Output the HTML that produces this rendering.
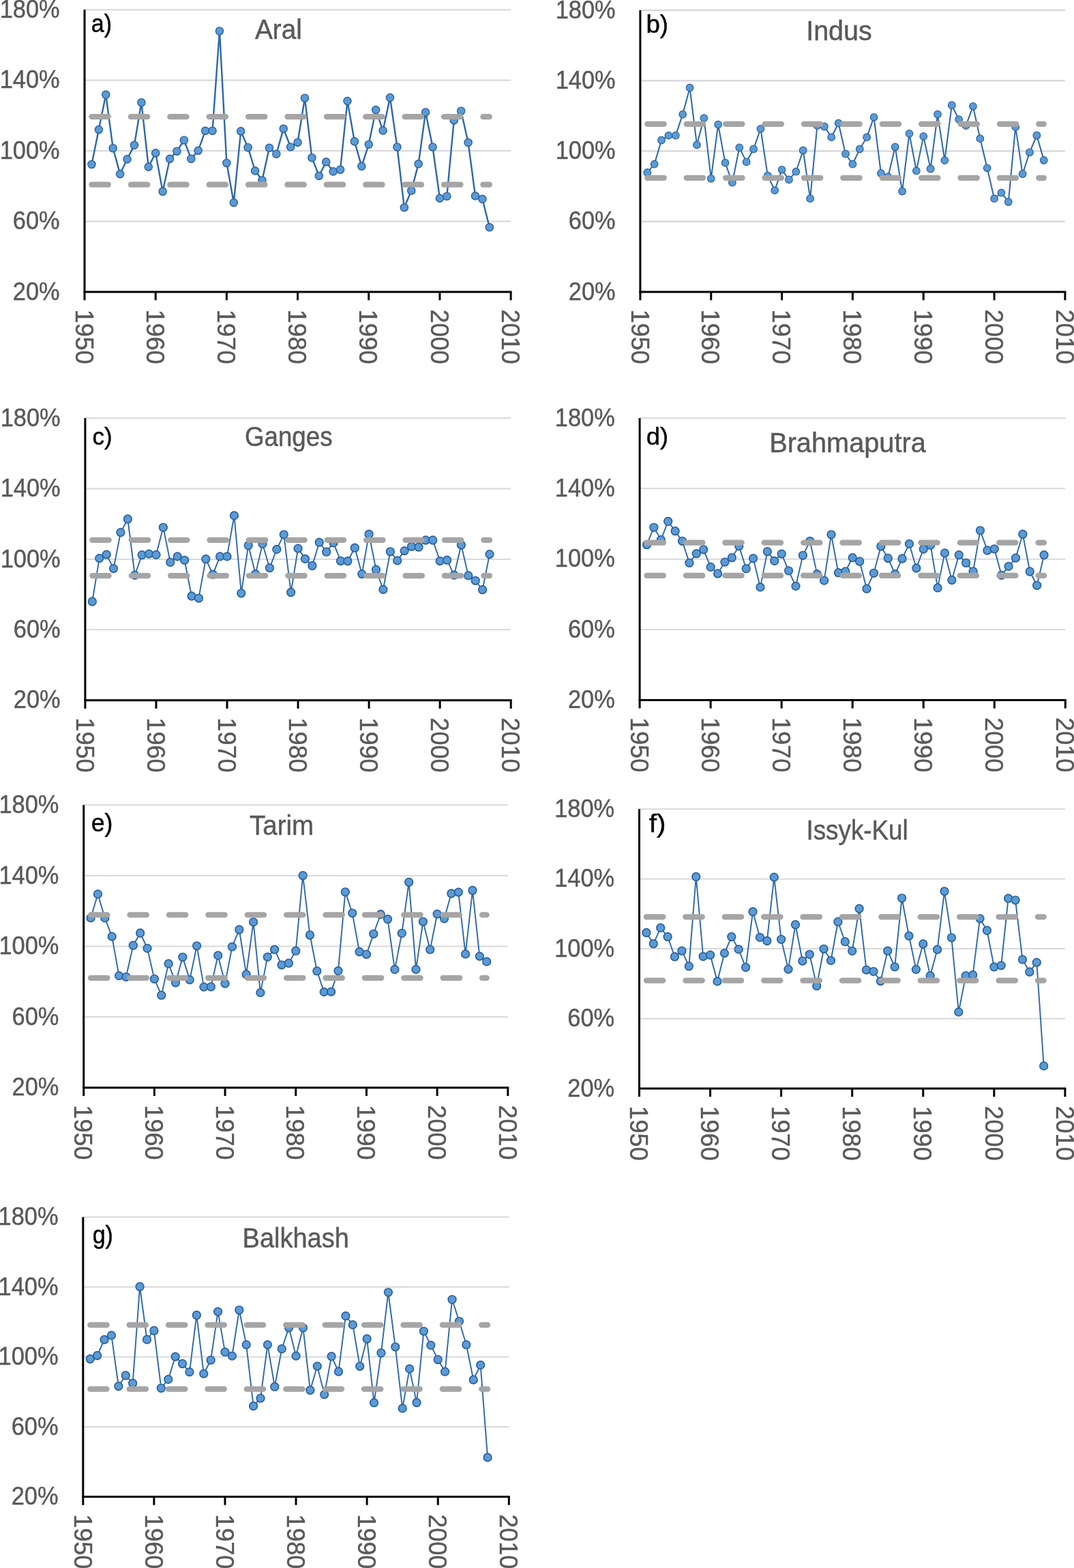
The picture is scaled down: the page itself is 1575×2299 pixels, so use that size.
<!DOCTYPE html>
<html><head><meta charset="utf-8"><title>Runoff charts</title>
<style>html,body{margin:0;padding:0;background:#fff;}svg{display:block;}text{font-family:'Liberation Sans', Arial, sans-serif;stroke-width:0.45px;}</style>
</head><body>
<svg width="1575" height="2299" viewBox="0 0 1575 2299">
<rect width="1575" height="2299" fill="#fff"/>
<g id="pa"><line x1="124" y1="14.3" x2="749.1" y2="14.3" stroke="#d9d9d9" stroke-width="2.3"/><line x1="124" y1="117.72" x2="749.1" y2="117.72" stroke="#d9d9d9" stroke-width="2.3"/><line x1="124" y1="221.15" x2="749.1" y2="221.15" stroke="#d9d9d9" stroke-width="2.3"/><line x1="124" y1="324.57" x2="749.1" y2="324.57" stroke="#d9d9d9" stroke-width="2.3"/><text transform="translate(87.7,25.9) scale(0.935,1)" text-anchor="end" font-size="36.8" fill="#595959" stroke="#595959">180%</text><text transform="translate(87.7,129.32) scale(0.935,1)" text-anchor="end" font-size="36.8" fill="#595959" stroke="#595959">140%</text><text transform="translate(87.7,232.75) scale(0.935,1)" text-anchor="end" font-size="36.8" fill="#595959" stroke="#595959">100%</text><text transform="translate(87.7,336.18) scale(0.935,1)" text-anchor="end" font-size="36.8" fill="#595959" stroke="#595959">60%</text><text transform="translate(87.7,439.6) scale(0.935,1)" text-anchor="end" font-size="36.8" fill="#595959" stroke="#595959">20%</text><text transform="translate(110.7,453.65) rotate(90) scale(0.979,1)" font-size="36.8" fill="#595959" stroke="#595959">1950</text><text transform="translate(214.88,453.65) rotate(90) scale(0.979,1)" font-size="36.8" fill="#595959" stroke="#595959">1960</text><text transform="translate(319.07,453.65) rotate(90) scale(0.979,1)" font-size="36.8" fill="#595959" stroke="#595959">1970</text><text transform="translate(423.25,453.65) rotate(90) scale(0.979,1)" font-size="36.8" fill="#595959" stroke="#595959">1980</text><text transform="translate(527.43,453.65) rotate(90) scale(0.979,1)" font-size="36.8" fill="#595959" stroke="#595959">1990</text><text transform="translate(631.62,453.65) rotate(90) scale(0.979,1)" font-size="36.8" fill="#595959" stroke="#595959">2000</text><text transform="translate(735.8,453.65) rotate(90) scale(0.979,1)" font-size="36.8" fill="#595959" stroke="#595959">2010</text><line x1="124" y1="14.3" x2="124" y2="440.2" stroke="#000" stroke-width="3"/><line x1="122.5" y1="428" x2="750.6" y2="428" stroke="#000" stroke-width="3"/><line x1="228.18" y1="428" x2="228.18" y2="440.2" stroke="#000" stroke-width="3"/><line x1="332.37" y1="428" x2="332.37" y2="440.2" stroke="#000" stroke-width="3"/><line x1="436.55" y1="428" x2="436.55" y2="440.2" stroke="#000" stroke-width="3"/><line x1="540.73" y1="428" x2="540.73" y2="440.2" stroke="#000" stroke-width="3"/><line x1="644.92" y1="428" x2="644.92" y2="440.2" stroke="#000" stroke-width="3"/><line x1="749.1" y1="428" x2="749.1" y2="440.2" stroke="#000" stroke-width="3"/><path d="M134.42,241 L144.84,190.1 L155.25,138.8 L165.67,217.2 L176.09,255.1 L186.51,233.4 L196.93,212.9 L207.35,150.3 L217.76,244.6 L228.18,224.4 L238.6,280.8 L249.02,232.9 L259.44,221.7 L269.86,205.5 L280.27,232.9 L290.69,220.7 L301.11,191.8 L311.53,191.8 L321.95,45.5 L332.37,239 L342.78,297.1 L353.2,192.4 L363.62,216.2 L374.04,250.4 L384.46,264.2 L394.88,216.8 L405.3,225.7 L415.71,188.8 L426.13,215.5 L436.55,208.7 L446.97,143.7 L457.39,231.2 L467.81,257.9 L478.22,237.4 L488.64,251.4 L499.06,248.8 L509.48,148.1 L519.9,207.4 L530.32,243.8 L540.73,211.7 L551.15,161.1 L561.57,191.4 L571.99,143.1 L582.41,215.5 L592.83,304.3 L603.24,279.5 L613.66,240.3 L624.08,164.6 L634.5,215.5 L644.92,290.6 L655.34,287.7 L665.75,176.4 L676.17,162.7 L686.59,209 L697.01,287.3 L707.43,291.9 L717.85,333.3" fill="none" stroke="#2c67a8" stroke-width="2.4" stroke-linejoin="round"/><circle cx="134.42" cy="241" r="5.6" fill="#5b9bd5" stroke="#2b609e" stroke-width="1.4"/><circle cx="144.84" cy="190.1" r="5.6" fill="#5b9bd5" stroke="#2b609e" stroke-width="1.4"/><circle cx="155.25" cy="138.8" r="5.6" fill="#5b9bd5" stroke="#2b609e" stroke-width="1.4"/><circle cx="165.67" cy="217.2" r="5.6" fill="#5b9bd5" stroke="#2b609e" stroke-width="1.4"/><circle cx="176.09" cy="255.1" r="5.6" fill="#5b9bd5" stroke="#2b609e" stroke-width="1.4"/><circle cx="186.51" cy="233.4" r="5.6" fill="#5b9bd5" stroke="#2b609e" stroke-width="1.4"/><circle cx="196.93" cy="212.9" r="5.6" fill="#5b9bd5" stroke="#2b609e" stroke-width="1.4"/><circle cx="207.35" cy="150.3" r="5.6" fill="#5b9bd5" stroke="#2b609e" stroke-width="1.4"/><circle cx="217.76" cy="244.6" r="5.6" fill="#5b9bd5" stroke="#2b609e" stroke-width="1.4"/><circle cx="228.18" cy="224.4" r="5.6" fill="#5b9bd5" stroke="#2b609e" stroke-width="1.4"/><circle cx="238.6" cy="280.8" r="5.6" fill="#5b9bd5" stroke="#2b609e" stroke-width="1.4"/><circle cx="249.02" cy="232.9" r="5.6" fill="#5b9bd5" stroke="#2b609e" stroke-width="1.4"/><circle cx="259.44" cy="221.7" r="5.6" fill="#5b9bd5" stroke="#2b609e" stroke-width="1.4"/><circle cx="269.86" cy="205.5" r="5.6" fill="#5b9bd5" stroke="#2b609e" stroke-width="1.4"/><circle cx="280.27" cy="232.9" r="5.6" fill="#5b9bd5" stroke="#2b609e" stroke-width="1.4"/><circle cx="290.69" cy="220.7" r="5.6" fill="#5b9bd5" stroke="#2b609e" stroke-width="1.4"/><circle cx="301.11" cy="191.8" r="5.6" fill="#5b9bd5" stroke="#2b609e" stroke-width="1.4"/><circle cx="311.53" cy="191.8" r="5.6" fill="#5b9bd5" stroke="#2b609e" stroke-width="1.4"/><circle cx="321.95" cy="45.5" r="5.6" fill="#5b9bd5" stroke="#2b609e" stroke-width="1.4"/><circle cx="332.37" cy="239" r="5.6" fill="#5b9bd5" stroke="#2b609e" stroke-width="1.4"/><circle cx="342.78" cy="297.1" r="5.6" fill="#5b9bd5" stroke="#2b609e" stroke-width="1.4"/><circle cx="353.2" cy="192.4" r="5.6" fill="#5b9bd5" stroke="#2b609e" stroke-width="1.4"/><circle cx="363.62" cy="216.2" r="5.6" fill="#5b9bd5" stroke="#2b609e" stroke-width="1.4"/><circle cx="374.04" cy="250.4" r="5.6" fill="#5b9bd5" stroke="#2b609e" stroke-width="1.4"/><circle cx="384.46" cy="264.2" r="5.6" fill="#5b9bd5" stroke="#2b609e" stroke-width="1.4"/><circle cx="394.88" cy="216.8" r="5.6" fill="#5b9bd5" stroke="#2b609e" stroke-width="1.4"/><circle cx="405.3" cy="225.7" r="5.6" fill="#5b9bd5" stroke="#2b609e" stroke-width="1.4"/><circle cx="415.71" cy="188.8" r="5.6" fill="#5b9bd5" stroke="#2b609e" stroke-width="1.4"/><circle cx="426.13" cy="215.5" r="5.6" fill="#5b9bd5" stroke="#2b609e" stroke-width="1.4"/><circle cx="436.55" cy="208.7" r="5.6" fill="#5b9bd5" stroke="#2b609e" stroke-width="1.4"/><circle cx="446.97" cy="143.7" r="5.6" fill="#5b9bd5" stroke="#2b609e" stroke-width="1.4"/><circle cx="457.39" cy="231.2" r="5.6" fill="#5b9bd5" stroke="#2b609e" stroke-width="1.4"/><circle cx="467.81" cy="257.9" r="5.6" fill="#5b9bd5" stroke="#2b609e" stroke-width="1.4"/><circle cx="478.22" cy="237.4" r="5.6" fill="#5b9bd5" stroke="#2b609e" stroke-width="1.4"/><circle cx="488.64" cy="251.4" r="5.6" fill="#5b9bd5" stroke="#2b609e" stroke-width="1.4"/><circle cx="499.06" cy="248.8" r="5.6" fill="#5b9bd5" stroke="#2b609e" stroke-width="1.4"/><circle cx="509.48" cy="148.1" r="5.6" fill="#5b9bd5" stroke="#2b609e" stroke-width="1.4"/><circle cx="519.9" cy="207.4" r="5.6" fill="#5b9bd5" stroke="#2b609e" stroke-width="1.4"/><circle cx="530.32" cy="243.8" r="5.6" fill="#5b9bd5" stroke="#2b609e" stroke-width="1.4"/><circle cx="540.73" cy="211.7" r="5.6" fill="#5b9bd5" stroke="#2b609e" stroke-width="1.4"/><circle cx="551.15" cy="161.1" r="5.6" fill="#5b9bd5" stroke="#2b609e" stroke-width="1.4"/><circle cx="561.57" cy="191.4" r="5.6" fill="#5b9bd5" stroke="#2b609e" stroke-width="1.4"/><circle cx="571.99" cy="143.1" r="5.6" fill="#5b9bd5" stroke="#2b609e" stroke-width="1.4"/><circle cx="582.41" cy="215.5" r="5.6" fill="#5b9bd5" stroke="#2b609e" stroke-width="1.4"/><circle cx="592.83" cy="304.3" r="5.6" fill="#5b9bd5" stroke="#2b609e" stroke-width="1.4"/><circle cx="603.24" cy="279.5" r="5.6" fill="#5b9bd5" stroke="#2b609e" stroke-width="1.4"/><circle cx="613.66" cy="240.3" r="5.6" fill="#5b9bd5" stroke="#2b609e" stroke-width="1.4"/><circle cx="624.08" cy="164.6" r="5.6" fill="#5b9bd5" stroke="#2b609e" stroke-width="1.4"/><circle cx="634.5" cy="215.5" r="5.6" fill="#5b9bd5" stroke="#2b609e" stroke-width="1.4"/><circle cx="644.92" cy="290.6" r="5.6" fill="#5b9bd5" stroke="#2b609e" stroke-width="1.4"/><circle cx="655.34" cy="287.7" r="5.6" fill="#5b9bd5" stroke="#2b609e" stroke-width="1.4"/><circle cx="665.75" cy="176.4" r="5.6" fill="#5b9bd5" stroke="#2b609e" stroke-width="1.4"/><circle cx="676.17" cy="162.7" r="5.6" fill="#5b9bd5" stroke="#2b609e" stroke-width="1.4"/><circle cx="686.59" cy="209" r="5.6" fill="#5b9bd5" stroke="#2b609e" stroke-width="1.4"/><circle cx="697.01" cy="287.3" r="5.6" fill="#5b9bd5" stroke="#2b609e" stroke-width="1.4"/><circle cx="707.43" cy="291.9" r="5.6" fill="#5b9bd5" stroke="#2b609e" stroke-width="1.4"/><circle cx="717.85" cy="333.3" r="5.6" fill="#5b9bd5" stroke="#2b609e" stroke-width="1.4"/><line x1="134.42" y1="171.1" x2="717.85" y2="171.1" stroke="#a5a5a5" stroke-width="8.3" stroke-linecap="round" stroke-dasharray="24.4 33.0"/><line x1="134.42" y1="270.7" x2="717.85" y2="270.7" stroke="#a5a5a5" stroke-width="8.3" stroke-linecap="round" stroke-dasharray="24.4 33.0"/><text transform="translate(373.92,57) scale(0.970,1)" font-size="40.0" fill="#595959" stroke="#595959">Aral</text><text transform="translate(133.75,47.3) scale(0.945,1)" font-size="36.0" fill="#000" stroke="#000">a)</text></g><g id="pb"><line x1="938.9" y1="15" x2="1561.9" y2="15" stroke="#d9d9d9" stroke-width="2.3"/><line x1="938.9" y1="118.25" x2="1561.9" y2="118.25" stroke="#d9d9d9" stroke-width="2.3"/><line x1="938.9" y1="221.5" x2="1561.9" y2="221.5" stroke="#d9d9d9" stroke-width="2.3"/><line x1="938.9" y1="324.75" x2="1561.9" y2="324.75" stroke="#d9d9d9" stroke-width="2.3"/><text transform="translate(902.6,26.6) scale(0.935,1)" text-anchor="end" font-size="36.8" fill="#595959" stroke="#595959">180%</text><text transform="translate(902.6,129.85) scale(0.935,1)" text-anchor="end" font-size="36.8" fill="#595959" stroke="#595959">140%</text><text transform="translate(902.6,233.1) scale(0.935,1)" text-anchor="end" font-size="36.8" fill="#595959" stroke="#595959">100%</text><text transform="translate(902.6,336.35) scale(0.935,1)" text-anchor="end" font-size="36.8" fill="#595959" stroke="#595959">60%</text><text transform="translate(902.6,439.6) scale(0.935,1)" text-anchor="end" font-size="36.8" fill="#595959" stroke="#595959">20%</text><text transform="translate(925.6,453.65) rotate(90) scale(0.979,1)" font-size="36.8" fill="#595959" stroke="#595959">1950</text><text transform="translate(1029.43,453.65) rotate(90) scale(0.979,1)" font-size="36.8" fill="#595959" stroke="#595959">1960</text><text transform="translate(1133.27,453.65) rotate(90) scale(0.979,1)" font-size="36.8" fill="#595959" stroke="#595959">1970</text><text transform="translate(1237.1,453.65) rotate(90) scale(0.979,1)" font-size="36.8" fill="#595959" stroke="#595959">1980</text><text transform="translate(1340.93,453.65) rotate(90) scale(0.979,1)" font-size="36.8" fill="#595959" stroke="#595959">1990</text><text transform="translate(1444.77,453.65) rotate(90) scale(0.979,1)" font-size="36.8" fill="#595959" stroke="#595959">2000</text><text transform="translate(1548.6,453.65) rotate(90) scale(0.979,1)" font-size="36.8" fill="#595959" stroke="#595959">2010</text><line x1="938.9" y1="15" x2="938.9" y2="440.2" stroke="#000" stroke-width="3"/><line x1="937.4" y1="428" x2="1563.4" y2="428" stroke="#000" stroke-width="3"/><line x1="1042.73" y1="428" x2="1042.73" y2="440.2" stroke="#000" stroke-width="3"/><line x1="1146.57" y1="428" x2="1146.57" y2="440.2" stroke="#000" stroke-width="3"/><line x1="1250.4" y1="428" x2="1250.4" y2="440.2" stroke="#000" stroke-width="3"/><line x1="1354.23" y1="428" x2="1354.23" y2="440.2" stroke="#000" stroke-width="3"/><line x1="1458.07" y1="428" x2="1458.07" y2="440.2" stroke="#000" stroke-width="3"/><line x1="1561.9" y1="428" x2="1561.9" y2="440.2" stroke="#000" stroke-width="3"/><path d="M949.28,253 L959.67,240.6 L970.05,205.5 L980.43,198.6 L990.82,198.6 L1001.2,167.6 L1011.58,128.7 L1021.97,212.3 L1032.35,173.1 L1042.73,261.8 L1053.12,182.6 L1063.5,238.6 L1073.88,267.7 L1084.27,216.4 L1094.65,237.4 L1105.03,218.5 L1115.42,188.8 L1125.8,257.3 L1136.18,279.1 L1146.57,248.8 L1156.95,263.4 L1167.33,251.7 L1177.72,220.5 L1188.1,291.2 L1198.48,184.2 L1208.87,185.5 L1219.25,201.2 L1229.63,180.7 L1240.02,225.7 L1250.4,240.7 L1260.78,218.5 L1271.17,201.2 L1281.55,171.8 L1291.93,254 L1302.32,259.2 L1312.7,215.5 L1323.08,280.5 L1333.47,195.9 L1343.85,250.4 L1354.23,199.9 L1364.62,247.5 L1375,167.6 L1385.38,235.1 L1395.77,154.2 L1406.15,175.1 L1416.53,184.2 L1426.92,155.8 L1437.3,203.2 L1447.68,246.3 L1458.07,291.2 L1468.45,282.7 L1478.83,296 L1489.22,186.2 L1499.6,255 L1509.98,223.3 L1520.37,198.5 L1530.75,235" fill="none" stroke="#2c67a8" stroke-width="2.0" stroke-linejoin="round"/><circle cx="949.28" cy="253" r="5.3" fill="#5b9bd5" stroke="#2b609e" stroke-width="1.2"/><circle cx="959.67" cy="240.6" r="5.3" fill="#5b9bd5" stroke="#2b609e" stroke-width="1.2"/><circle cx="970.05" cy="205.5" r="5.3" fill="#5b9bd5" stroke="#2b609e" stroke-width="1.2"/><circle cx="980.43" cy="198.6" r="5.3" fill="#5b9bd5" stroke="#2b609e" stroke-width="1.2"/><circle cx="990.82" cy="198.6" r="5.3" fill="#5b9bd5" stroke="#2b609e" stroke-width="1.2"/><circle cx="1001.2" cy="167.6" r="5.3" fill="#5b9bd5" stroke="#2b609e" stroke-width="1.2"/><circle cx="1011.58" cy="128.7" r="5.3" fill="#5b9bd5" stroke="#2b609e" stroke-width="1.2"/><circle cx="1021.97" cy="212.3" r="5.3" fill="#5b9bd5" stroke="#2b609e" stroke-width="1.2"/><circle cx="1032.35" cy="173.1" r="5.3" fill="#5b9bd5" stroke="#2b609e" stroke-width="1.2"/><circle cx="1042.73" cy="261.8" r="5.3" fill="#5b9bd5" stroke="#2b609e" stroke-width="1.2"/><circle cx="1053.12" cy="182.6" r="5.3" fill="#5b9bd5" stroke="#2b609e" stroke-width="1.2"/><circle cx="1063.5" cy="238.6" r="5.3" fill="#5b9bd5" stroke="#2b609e" stroke-width="1.2"/><circle cx="1073.88" cy="267.7" r="5.3" fill="#5b9bd5" stroke="#2b609e" stroke-width="1.2"/><circle cx="1084.27" cy="216.4" r="5.3" fill="#5b9bd5" stroke="#2b609e" stroke-width="1.2"/><circle cx="1094.65" cy="237.4" r="5.3" fill="#5b9bd5" stroke="#2b609e" stroke-width="1.2"/><circle cx="1105.03" cy="218.5" r="5.3" fill="#5b9bd5" stroke="#2b609e" stroke-width="1.2"/><circle cx="1115.42" cy="188.8" r="5.3" fill="#5b9bd5" stroke="#2b609e" stroke-width="1.2"/><circle cx="1125.8" cy="257.3" r="5.3" fill="#5b9bd5" stroke="#2b609e" stroke-width="1.2"/><circle cx="1136.18" cy="279.1" r="5.3" fill="#5b9bd5" stroke="#2b609e" stroke-width="1.2"/><circle cx="1146.57" cy="248.8" r="5.3" fill="#5b9bd5" stroke="#2b609e" stroke-width="1.2"/><circle cx="1156.95" cy="263.4" r="5.3" fill="#5b9bd5" stroke="#2b609e" stroke-width="1.2"/><circle cx="1167.33" cy="251.7" r="5.3" fill="#5b9bd5" stroke="#2b609e" stroke-width="1.2"/><circle cx="1177.72" cy="220.5" r="5.3" fill="#5b9bd5" stroke="#2b609e" stroke-width="1.2"/><circle cx="1188.1" cy="291.2" r="5.3" fill="#5b9bd5" stroke="#2b609e" stroke-width="1.2"/><circle cx="1198.48" cy="184.2" r="5.3" fill="#5b9bd5" stroke="#2b609e" stroke-width="1.2"/><circle cx="1208.87" cy="185.5" r="5.3" fill="#5b9bd5" stroke="#2b609e" stroke-width="1.2"/><circle cx="1219.25" cy="201.2" r="5.3" fill="#5b9bd5" stroke="#2b609e" stroke-width="1.2"/><circle cx="1229.63" cy="180.7" r="5.3" fill="#5b9bd5" stroke="#2b609e" stroke-width="1.2"/><circle cx="1240.02" cy="225.7" r="5.3" fill="#5b9bd5" stroke="#2b609e" stroke-width="1.2"/><circle cx="1250.4" cy="240.7" r="5.3" fill="#5b9bd5" stroke="#2b609e" stroke-width="1.2"/><circle cx="1260.78" cy="218.5" r="5.3" fill="#5b9bd5" stroke="#2b609e" stroke-width="1.2"/><circle cx="1271.17" cy="201.2" r="5.3" fill="#5b9bd5" stroke="#2b609e" stroke-width="1.2"/><circle cx="1281.55" cy="171.8" r="5.3" fill="#5b9bd5" stroke="#2b609e" stroke-width="1.2"/><circle cx="1291.93" cy="254" r="5.3" fill="#5b9bd5" stroke="#2b609e" stroke-width="1.2"/><circle cx="1302.32" cy="259.2" r="5.3" fill="#5b9bd5" stroke="#2b609e" stroke-width="1.2"/><circle cx="1312.7" cy="215.5" r="5.3" fill="#5b9bd5" stroke="#2b609e" stroke-width="1.2"/><circle cx="1323.08" cy="280.5" r="5.3" fill="#5b9bd5" stroke="#2b609e" stroke-width="1.2"/><circle cx="1333.47" cy="195.9" r="5.3" fill="#5b9bd5" stroke="#2b609e" stroke-width="1.2"/><circle cx="1343.85" cy="250.4" r="5.3" fill="#5b9bd5" stroke="#2b609e" stroke-width="1.2"/><circle cx="1354.23" cy="199.9" r="5.3" fill="#5b9bd5" stroke="#2b609e" stroke-width="1.2"/><circle cx="1364.62" cy="247.5" r="5.3" fill="#5b9bd5" stroke="#2b609e" stroke-width="1.2"/><circle cx="1375" cy="167.6" r="5.3" fill="#5b9bd5" stroke="#2b609e" stroke-width="1.2"/><circle cx="1385.38" cy="235.1" r="5.3" fill="#5b9bd5" stroke="#2b609e" stroke-width="1.2"/><circle cx="1395.77" cy="154.2" r="5.3" fill="#5b9bd5" stroke="#2b609e" stroke-width="1.2"/><circle cx="1406.15" cy="175.1" r="5.3" fill="#5b9bd5" stroke="#2b609e" stroke-width="1.2"/><circle cx="1416.53" cy="184.2" r="5.3" fill="#5b9bd5" stroke="#2b609e" stroke-width="1.2"/><circle cx="1426.92" cy="155.8" r="5.3" fill="#5b9bd5" stroke="#2b609e" stroke-width="1.2"/><circle cx="1437.3" cy="203.2" r="5.3" fill="#5b9bd5" stroke="#2b609e" stroke-width="1.2"/><circle cx="1447.68" cy="246.3" r="5.3" fill="#5b9bd5" stroke="#2b609e" stroke-width="1.2"/><circle cx="1458.07" cy="291.2" r="5.3" fill="#5b9bd5" stroke="#2b609e" stroke-width="1.2"/><circle cx="1468.45" cy="282.7" r="5.3" fill="#5b9bd5" stroke="#2b609e" stroke-width="1.2"/><circle cx="1478.83" cy="296" r="5.3" fill="#5b9bd5" stroke="#2b609e" stroke-width="1.2"/><circle cx="1489.22" cy="186.2" r="5.3" fill="#5b9bd5" stroke="#2b609e" stroke-width="1.2"/><circle cx="1499.6" cy="255" r="5.3" fill="#5b9bd5" stroke="#2b609e" stroke-width="1.2"/><circle cx="1509.98" cy="223.3" r="5.3" fill="#5b9bd5" stroke="#2b609e" stroke-width="1.2"/><circle cx="1520.37" cy="198.5" r="5.3" fill="#5b9bd5" stroke="#2b609e" stroke-width="1.2"/><circle cx="1530.75" cy="235" r="5.3" fill="#5b9bd5" stroke="#2b609e" stroke-width="1.2"/><line x1="949.28" y1="181.9" x2="1530.75" y2="181.9" stroke="#a5a5a5" stroke-width="8.3" stroke-linecap="round" stroke-dasharray="24.4 33.0"/><line x1="949.28" y1="260.8" x2="1530.75" y2="260.8" stroke="#a5a5a5" stroke-width="8.3" stroke-linecap="round" stroke-dasharray="24.4 33.0"/><text transform="translate(1182.17,59) scale(0.986,1)" font-size="40.0" fill="#595959" stroke="#595959">Indus</text><text transform="translate(947.43,48) scale(1.020,1)" font-size="36.0" fill="#000" stroke="#000">b)</text></g><g id="pc"><line x1="124.9" y1="613.1" x2="749.2" y2="613.1" stroke="#d9d9d9" stroke-width="2.0"/><line x1="124.9" y1="716.5" x2="749.2" y2="716.5" stroke="#d9d9d9" stroke-width="2.0"/><line x1="124.9" y1="819.9" x2="749.2" y2="819.9" stroke="#d9d9d9" stroke-width="2.0"/><line x1="124.9" y1="923.3" x2="749.2" y2="923.3" stroke="#d9d9d9" stroke-width="2.0"/><text transform="translate(88.6,624.7) scale(0.935,1)" text-anchor="end" font-size="36.8" fill="#595959" stroke="#595959">180%</text><text transform="translate(88.6,728.1) scale(0.935,1)" text-anchor="end" font-size="36.8" fill="#595959" stroke="#595959">140%</text><text transform="translate(88.6,831.5) scale(0.935,1)" text-anchor="end" font-size="36.8" fill="#595959" stroke="#595959">100%</text><text transform="translate(88.6,934.9) scale(0.935,1)" text-anchor="end" font-size="36.8" fill="#595959" stroke="#595959">60%</text><text transform="translate(88.6,1038.3) scale(0.935,1)" text-anchor="end" font-size="36.8" fill="#595959" stroke="#595959">20%</text><text transform="translate(111.6,1052.35) rotate(90) scale(0.979,1)" font-size="36.8" fill="#595959" stroke="#595959">1950</text><text transform="translate(215.65,1052.35) rotate(90) scale(0.979,1)" font-size="36.8" fill="#595959" stroke="#595959">1960</text><text transform="translate(319.7,1052.35) rotate(90) scale(0.979,1)" font-size="36.8" fill="#595959" stroke="#595959">1970</text><text transform="translate(423.75,1052.35) rotate(90) scale(0.979,1)" font-size="36.8" fill="#595959" stroke="#595959">1980</text><text transform="translate(527.8,1052.35) rotate(90) scale(0.979,1)" font-size="36.8" fill="#595959" stroke="#595959">1990</text><text transform="translate(631.85,1052.35) rotate(90) scale(0.979,1)" font-size="36.8" fill="#595959" stroke="#595959">2000</text><text transform="translate(735.9,1052.35) rotate(90) scale(0.979,1)" font-size="36.8" fill="#595959" stroke="#595959">2010</text><line x1="124.9" y1="613.1" x2="124.9" y2="1038.9" stroke="#000" stroke-width="3"/><line x1="123.4" y1="1026.7" x2="750.7" y2="1026.7" stroke="#000" stroke-width="3"/><line x1="228.95" y1="1026.7" x2="228.95" y2="1038.9" stroke="#000" stroke-width="3"/><line x1="333" y1="1026.7" x2="333" y2="1038.9" stroke="#000" stroke-width="3"/><line x1="437.05" y1="1026.7" x2="437.05" y2="1038.9" stroke="#000" stroke-width="3"/><line x1="541.1" y1="1026.7" x2="541.1" y2="1038.9" stroke="#000" stroke-width="3"/><line x1="645.15" y1="1026.7" x2="645.15" y2="1038.9" stroke="#000" stroke-width="3"/><line x1="749.2" y1="1026.7" x2="749.2" y2="1038.9" stroke="#000" stroke-width="3"/><path d="M135.31,882 L145.71,818.6 L156.12,813.1 L166.52,833.6 L176.93,780.6 L187.33,761 L197.74,843.3 L208.14,813.7 L218.55,812.1 L228.95,813.4 L239.36,773.3 L249.76,824.4 L260.17,815.9 L270.57,821.3 L280.98,874 L291.38,877.1 L301.79,819.7 L312.19,842.2 L322.6,815.9 L333,815.9 L343.41,755.9 L353.81,869.8 L364.22,799.7 L374.62,841.6 L385.02,797.4 L395.43,832.7 L405.84,805.4 L416.24,783.8 L426.64,868.5 L437.05,804.1 L447.46,819.4 L457.86,829.5 L468.26,795.2 L478.67,809.2 L489.08,795.9 L499.48,822.5 L509.88,822.7 L520.29,803.2 L530.7,841.6 L541.1,783.2 L551.5,835.2 L561.91,864.4 L572.32,808.8 L582.72,821.9 L593.12,807.6 L603.53,801.3 L613.94,802.2 L624.34,792 L634.75,792 L645.15,822.6 L655.56,821.2 L665.96,843.2 L676.37,799 L686.77,843.9 L697.18,851.3 L707.58,864.7 L717.99,812.6" fill="none" stroke="#2c67a8" stroke-width="1.9" stroke-linejoin="round"/><circle cx="135.31" cy="882" r="5.8" fill="#5b9bd5" stroke="#2b609e" stroke-width="1.7"/><circle cx="145.71" cy="818.6" r="5.8" fill="#5b9bd5" stroke="#2b609e" stroke-width="1.7"/><circle cx="156.12" cy="813.1" r="5.8" fill="#5b9bd5" stroke="#2b609e" stroke-width="1.7"/><circle cx="166.52" cy="833.6" r="5.8" fill="#5b9bd5" stroke="#2b609e" stroke-width="1.7"/><circle cx="176.93" cy="780.6" r="5.8" fill="#5b9bd5" stroke="#2b609e" stroke-width="1.7"/><circle cx="187.33" cy="761" r="5.8" fill="#5b9bd5" stroke="#2b609e" stroke-width="1.7"/><circle cx="197.74" cy="843.3" r="5.8" fill="#5b9bd5" stroke="#2b609e" stroke-width="1.7"/><circle cx="208.14" cy="813.7" r="5.8" fill="#5b9bd5" stroke="#2b609e" stroke-width="1.7"/><circle cx="218.55" cy="812.1" r="5.8" fill="#5b9bd5" stroke="#2b609e" stroke-width="1.7"/><circle cx="228.95" cy="813.4" r="5.8" fill="#5b9bd5" stroke="#2b609e" stroke-width="1.7"/><circle cx="239.36" cy="773.3" r="5.8" fill="#5b9bd5" stroke="#2b609e" stroke-width="1.7"/><circle cx="249.76" cy="824.4" r="5.8" fill="#5b9bd5" stroke="#2b609e" stroke-width="1.7"/><circle cx="260.17" cy="815.9" r="5.8" fill="#5b9bd5" stroke="#2b609e" stroke-width="1.7"/><circle cx="270.57" cy="821.3" r="5.8" fill="#5b9bd5" stroke="#2b609e" stroke-width="1.7"/><circle cx="280.98" cy="874" r="5.8" fill="#5b9bd5" stroke="#2b609e" stroke-width="1.7"/><circle cx="291.38" cy="877.1" r="5.8" fill="#5b9bd5" stroke="#2b609e" stroke-width="1.7"/><circle cx="301.79" cy="819.7" r="5.8" fill="#5b9bd5" stroke="#2b609e" stroke-width="1.7"/><circle cx="312.19" cy="842.2" r="5.8" fill="#5b9bd5" stroke="#2b609e" stroke-width="1.7"/><circle cx="322.6" cy="815.9" r="5.8" fill="#5b9bd5" stroke="#2b609e" stroke-width="1.7"/><circle cx="333" cy="815.9" r="5.8" fill="#5b9bd5" stroke="#2b609e" stroke-width="1.7"/><circle cx="343.41" cy="755.9" r="5.8" fill="#5b9bd5" stroke="#2b609e" stroke-width="1.7"/><circle cx="353.81" cy="869.8" r="5.8" fill="#5b9bd5" stroke="#2b609e" stroke-width="1.7"/><circle cx="364.22" cy="799.7" r="5.8" fill="#5b9bd5" stroke="#2b609e" stroke-width="1.7"/><circle cx="374.62" cy="841.6" r="5.8" fill="#5b9bd5" stroke="#2b609e" stroke-width="1.7"/><circle cx="385.02" cy="797.4" r="5.8" fill="#5b9bd5" stroke="#2b609e" stroke-width="1.7"/><circle cx="395.43" cy="832.7" r="5.8" fill="#5b9bd5" stroke="#2b609e" stroke-width="1.7"/><circle cx="405.84" cy="805.4" r="5.8" fill="#5b9bd5" stroke="#2b609e" stroke-width="1.7"/><circle cx="416.24" cy="783.8" r="5.8" fill="#5b9bd5" stroke="#2b609e" stroke-width="1.7"/><circle cx="426.64" cy="868.5" r="5.8" fill="#5b9bd5" stroke="#2b609e" stroke-width="1.7"/><circle cx="437.05" cy="804.1" r="5.8" fill="#5b9bd5" stroke="#2b609e" stroke-width="1.7"/><circle cx="447.46" cy="819.4" r="5.8" fill="#5b9bd5" stroke="#2b609e" stroke-width="1.7"/><circle cx="457.86" cy="829.5" r="5.8" fill="#5b9bd5" stroke="#2b609e" stroke-width="1.7"/><circle cx="468.26" cy="795.2" r="5.8" fill="#5b9bd5" stroke="#2b609e" stroke-width="1.7"/><circle cx="478.67" cy="809.2" r="5.8" fill="#5b9bd5" stroke="#2b609e" stroke-width="1.7"/><circle cx="489.08" cy="795.9" r="5.8" fill="#5b9bd5" stroke="#2b609e" stroke-width="1.7"/><circle cx="499.48" cy="822.5" r="5.8" fill="#5b9bd5" stroke="#2b609e" stroke-width="1.7"/><circle cx="509.88" cy="822.7" r="5.8" fill="#5b9bd5" stroke="#2b609e" stroke-width="1.7"/><circle cx="520.29" cy="803.2" r="5.8" fill="#5b9bd5" stroke="#2b609e" stroke-width="1.7"/><circle cx="530.7" cy="841.6" r="5.8" fill="#5b9bd5" stroke="#2b609e" stroke-width="1.7"/><circle cx="541.1" cy="783.2" r="5.8" fill="#5b9bd5" stroke="#2b609e" stroke-width="1.7"/><circle cx="551.5" cy="835.2" r="5.8" fill="#5b9bd5" stroke="#2b609e" stroke-width="1.7"/><circle cx="561.91" cy="864.4" r="5.8" fill="#5b9bd5" stroke="#2b609e" stroke-width="1.7"/><circle cx="572.32" cy="808.8" r="5.8" fill="#5b9bd5" stroke="#2b609e" stroke-width="1.7"/><circle cx="582.72" cy="821.9" r="5.8" fill="#5b9bd5" stroke="#2b609e" stroke-width="1.7"/><circle cx="593.12" cy="807.6" r="5.8" fill="#5b9bd5" stroke="#2b609e" stroke-width="1.7"/><circle cx="603.53" cy="801.3" r="5.8" fill="#5b9bd5" stroke="#2b609e" stroke-width="1.7"/><circle cx="613.94" cy="802.2" r="5.8" fill="#5b9bd5" stroke="#2b609e" stroke-width="1.7"/><circle cx="624.34" cy="792" r="5.8" fill="#5b9bd5" stroke="#2b609e" stroke-width="1.7"/><circle cx="634.75" cy="792" r="5.8" fill="#5b9bd5" stroke="#2b609e" stroke-width="1.7"/><circle cx="645.15" cy="822.6" r="5.8" fill="#5b9bd5" stroke="#2b609e" stroke-width="1.7"/><circle cx="655.56" cy="821.2" r="5.8" fill="#5b9bd5" stroke="#2b609e" stroke-width="1.7"/><circle cx="665.96" cy="843.2" r="5.8" fill="#5b9bd5" stroke="#2b609e" stroke-width="1.7"/><circle cx="676.37" cy="799" r="5.8" fill="#5b9bd5" stroke="#2b609e" stroke-width="1.7"/><circle cx="686.77" cy="843.9" r="5.8" fill="#5b9bd5" stroke="#2b609e" stroke-width="1.7"/><circle cx="697.18" cy="851.3" r="5.8" fill="#5b9bd5" stroke="#2b609e" stroke-width="1.7"/><circle cx="707.58" cy="864.7" r="5.8" fill="#5b9bd5" stroke="#2b609e" stroke-width="1.7"/><circle cx="717.99" cy="812.6" r="5.8" fill="#5b9bd5" stroke="#2b609e" stroke-width="1.7"/><line x1="135.31" y1="791.8" x2="717.99" y2="791.8" stroke="#a5a5a5" stroke-width="8.3" stroke-linecap="round" stroke-dasharray="24.4 33.0"/><line x1="135.31" y1="844.1" x2="717.99" y2="844.1" stroke="#a5a5a5" stroke-width="8.3" stroke-linecap="round" stroke-dasharray="24.4 33.0"/><text transform="translate(358.96,653.9) scale(0.918,1)" font-size="40.0" fill="#595959" stroke="#595959">Ganges</text><text transform="translate(135.62,652) scale(0.969,1)" font-size="36.0" fill="#000" stroke="#000">c)</text></g><g id="pd"><line x1="938.1" y1="612.9" x2="1562.3" y2="612.9" stroke="#d9d9d9" stroke-width="2.0"/><line x1="938.1" y1="716.27" x2="1562.3" y2="716.27" stroke="#d9d9d9" stroke-width="2.0"/><line x1="938.1" y1="819.65" x2="1562.3" y2="819.65" stroke="#d9d9d9" stroke-width="2.0"/><line x1="938.1" y1="923.03" x2="1562.3" y2="923.03" stroke="#d9d9d9" stroke-width="2.0"/><text transform="translate(901.8,624.5) scale(0.935,1)" text-anchor="end" font-size="36.8" fill="#595959" stroke="#595959">180%</text><text transform="translate(901.8,727.88) scale(0.935,1)" text-anchor="end" font-size="36.8" fill="#595959" stroke="#595959">140%</text><text transform="translate(901.8,831.25) scale(0.935,1)" text-anchor="end" font-size="36.8" fill="#595959" stroke="#595959">100%</text><text transform="translate(901.8,934.63) scale(0.935,1)" text-anchor="end" font-size="36.8" fill="#595959" stroke="#595959">60%</text><text transform="translate(901.8,1038) scale(0.935,1)" text-anchor="end" font-size="36.8" fill="#595959" stroke="#595959">20%</text><text transform="translate(924.8,1052.05) rotate(90) scale(0.979,1)" font-size="36.8" fill="#595959" stroke="#595959">1950</text><text transform="translate(1028.83,1052.05) rotate(90) scale(0.979,1)" font-size="36.8" fill="#595959" stroke="#595959">1960</text><text transform="translate(1132.87,1052.05) rotate(90) scale(0.979,1)" font-size="36.8" fill="#595959" stroke="#595959">1970</text><text transform="translate(1236.9,1052.05) rotate(90) scale(0.979,1)" font-size="36.8" fill="#595959" stroke="#595959">1980</text><text transform="translate(1340.93,1052.05) rotate(90) scale(0.979,1)" font-size="36.8" fill="#595959" stroke="#595959">1990</text><text transform="translate(1444.97,1052.05) rotate(90) scale(0.979,1)" font-size="36.8" fill="#595959" stroke="#595959">2000</text><text transform="translate(1549,1052.05) rotate(90) scale(0.979,1)" font-size="36.8" fill="#595959" stroke="#595959">2010</text><line x1="938.1" y1="612.9" x2="938.1" y2="1038.6" stroke="#000" stroke-width="3"/><line x1="936.6" y1="1026.4" x2="1563.8" y2="1026.4" stroke="#000" stroke-width="3"/><line x1="1042.13" y1="1026.4" x2="1042.13" y2="1038.6" stroke="#000" stroke-width="3"/><line x1="1146.17" y1="1026.4" x2="1146.17" y2="1038.6" stroke="#000" stroke-width="3"/><line x1="1250.2" y1="1026.4" x2="1250.2" y2="1038.6" stroke="#000" stroke-width="3"/><line x1="1354.23" y1="1026.4" x2="1354.23" y2="1038.6" stroke="#000" stroke-width="3"/><line x1="1458.27" y1="1026.4" x2="1458.27" y2="1038.6" stroke="#000" stroke-width="3"/><line x1="1562.3" y1="1026.4" x2="1562.3" y2="1038.6" stroke="#000" stroke-width="3"/><path d="M948.5,798.7 L958.91,773.3 L969.31,791.4 L979.71,764.4 L990.12,778.7 L1000.52,793.3 L1010.92,825.3 L1021.33,811.7 L1031.73,805.8 L1042.13,831.4 L1052.54,841 L1062.94,824.1 L1073.34,817.7 L1083.75,800.7 L1094.15,833.7 L1104.55,818.7 L1114.96,860.9 L1125.36,808.6 L1135.76,822.4 L1146.17,812.1 L1156.57,836.8 L1166.97,859.4 L1177.38,814.3 L1187.78,793.3 L1198.18,841.6 L1208.59,851.1 L1218.99,783.8 L1229.39,839.7 L1239.8,837.8 L1250.2,817.7 L1260.6,823.2 L1271.01,863.2 L1281.41,840.3 L1291.81,801 L1302.22,818.5 L1312.62,841.6 L1323.02,819 L1333.43,797.4 L1343.83,833 L1354.23,805 L1364.64,799.4 L1375.04,861.9 L1385.44,810.9 L1395.85,850.5 L1406.25,813.7 L1416.65,825.3 L1427.06,837.8 L1437.46,777.8 L1447.86,807 L1458.27,804.8 L1468.67,843.3 L1479.07,830.4 L1489.48,818.1 L1499.88,783.2 L1510.28,838 L1520.69,858.3 L1531.09,813.7" fill="none" stroke="#2c67a8" stroke-width="1.9" stroke-linejoin="round"/><circle cx="948.5" cy="798.7" r="5.8" fill="#5b9bd5" stroke="#2b609e" stroke-width="1.7"/><circle cx="958.91" cy="773.3" r="5.8" fill="#5b9bd5" stroke="#2b609e" stroke-width="1.7"/><circle cx="969.31" cy="791.4" r="5.8" fill="#5b9bd5" stroke="#2b609e" stroke-width="1.7"/><circle cx="979.71" cy="764.4" r="5.8" fill="#5b9bd5" stroke="#2b609e" stroke-width="1.7"/><circle cx="990.12" cy="778.7" r="5.8" fill="#5b9bd5" stroke="#2b609e" stroke-width="1.7"/><circle cx="1000.52" cy="793.3" r="5.8" fill="#5b9bd5" stroke="#2b609e" stroke-width="1.7"/><circle cx="1010.92" cy="825.3" r="5.8" fill="#5b9bd5" stroke="#2b609e" stroke-width="1.7"/><circle cx="1021.33" cy="811.7" r="5.8" fill="#5b9bd5" stroke="#2b609e" stroke-width="1.7"/><circle cx="1031.73" cy="805.8" r="5.8" fill="#5b9bd5" stroke="#2b609e" stroke-width="1.7"/><circle cx="1042.13" cy="831.4" r="5.8" fill="#5b9bd5" stroke="#2b609e" stroke-width="1.7"/><circle cx="1052.54" cy="841" r="5.8" fill="#5b9bd5" stroke="#2b609e" stroke-width="1.7"/><circle cx="1062.94" cy="824.1" r="5.8" fill="#5b9bd5" stroke="#2b609e" stroke-width="1.7"/><circle cx="1073.34" cy="817.7" r="5.8" fill="#5b9bd5" stroke="#2b609e" stroke-width="1.7"/><circle cx="1083.75" cy="800.7" r="5.8" fill="#5b9bd5" stroke="#2b609e" stroke-width="1.7"/><circle cx="1094.15" cy="833.7" r="5.8" fill="#5b9bd5" stroke="#2b609e" stroke-width="1.7"/><circle cx="1104.55" cy="818.7" r="5.8" fill="#5b9bd5" stroke="#2b609e" stroke-width="1.7"/><circle cx="1114.96" cy="860.9" r="5.8" fill="#5b9bd5" stroke="#2b609e" stroke-width="1.7"/><circle cx="1125.36" cy="808.6" r="5.8" fill="#5b9bd5" stroke="#2b609e" stroke-width="1.7"/><circle cx="1135.76" cy="822.4" r="5.8" fill="#5b9bd5" stroke="#2b609e" stroke-width="1.7"/><circle cx="1146.17" cy="812.1" r="5.8" fill="#5b9bd5" stroke="#2b609e" stroke-width="1.7"/><circle cx="1156.57" cy="836.8" r="5.8" fill="#5b9bd5" stroke="#2b609e" stroke-width="1.7"/><circle cx="1166.97" cy="859.4" r="5.8" fill="#5b9bd5" stroke="#2b609e" stroke-width="1.7"/><circle cx="1177.38" cy="814.3" r="5.8" fill="#5b9bd5" stroke="#2b609e" stroke-width="1.7"/><circle cx="1187.78" cy="793.3" r="5.8" fill="#5b9bd5" stroke="#2b609e" stroke-width="1.7"/><circle cx="1198.18" cy="841.6" r="5.8" fill="#5b9bd5" stroke="#2b609e" stroke-width="1.7"/><circle cx="1208.59" cy="851.1" r="5.8" fill="#5b9bd5" stroke="#2b609e" stroke-width="1.7"/><circle cx="1218.99" cy="783.8" r="5.8" fill="#5b9bd5" stroke="#2b609e" stroke-width="1.7"/><circle cx="1229.39" cy="839.7" r="5.8" fill="#5b9bd5" stroke="#2b609e" stroke-width="1.7"/><circle cx="1239.8" cy="837.8" r="5.8" fill="#5b9bd5" stroke="#2b609e" stroke-width="1.7"/><circle cx="1250.2" cy="817.7" r="5.8" fill="#5b9bd5" stroke="#2b609e" stroke-width="1.7"/><circle cx="1260.6" cy="823.2" r="5.8" fill="#5b9bd5" stroke="#2b609e" stroke-width="1.7"/><circle cx="1271.01" cy="863.2" r="5.8" fill="#5b9bd5" stroke="#2b609e" stroke-width="1.7"/><circle cx="1281.41" cy="840.3" r="5.8" fill="#5b9bd5" stroke="#2b609e" stroke-width="1.7"/><circle cx="1291.81" cy="801" r="5.8" fill="#5b9bd5" stroke="#2b609e" stroke-width="1.7"/><circle cx="1302.22" cy="818.5" r="5.8" fill="#5b9bd5" stroke="#2b609e" stroke-width="1.7"/><circle cx="1312.62" cy="841.6" r="5.8" fill="#5b9bd5" stroke="#2b609e" stroke-width="1.7"/><circle cx="1323.02" cy="819" r="5.8" fill="#5b9bd5" stroke="#2b609e" stroke-width="1.7"/><circle cx="1333.43" cy="797.4" r="5.8" fill="#5b9bd5" stroke="#2b609e" stroke-width="1.7"/><circle cx="1343.83" cy="833" r="5.8" fill="#5b9bd5" stroke="#2b609e" stroke-width="1.7"/><circle cx="1354.23" cy="805" r="5.8" fill="#5b9bd5" stroke="#2b609e" stroke-width="1.7"/><circle cx="1364.64" cy="799.4" r="5.8" fill="#5b9bd5" stroke="#2b609e" stroke-width="1.7"/><circle cx="1375.04" cy="861.9" r="5.8" fill="#5b9bd5" stroke="#2b609e" stroke-width="1.7"/><circle cx="1385.44" cy="810.9" r="5.8" fill="#5b9bd5" stroke="#2b609e" stroke-width="1.7"/><circle cx="1395.85" cy="850.5" r="5.8" fill="#5b9bd5" stroke="#2b609e" stroke-width="1.7"/><circle cx="1406.25" cy="813.7" r="5.8" fill="#5b9bd5" stroke="#2b609e" stroke-width="1.7"/><circle cx="1416.65" cy="825.3" r="5.8" fill="#5b9bd5" stroke="#2b609e" stroke-width="1.7"/><circle cx="1427.06" cy="837.8" r="5.8" fill="#5b9bd5" stroke="#2b609e" stroke-width="1.7"/><circle cx="1437.46" cy="777.8" r="5.8" fill="#5b9bd5" stroke="#2b609e" stroke-width="1.7"/><circle cx="1447.86" cy="807" r="5.8" fill="#5b9bd5" stroke="#2b609e" stroke-width="1.7"/><circle cx="1458.27" cy="804.8" r="5.8" fill="#5b9bd5" stroke="#2b609e" stroke-width="1.7"/><circle cx="1468.67" cy="843.3" r="5.8" fill="#5b9bd5" stroke="#2b609e" stroke-width="1.7"/><circle cx="1479.07" cy="830.4" r="5.8" fill="#5b9bd5" stroke="#2b609e" stroke-width="1.7"/><circle cx="1489.48" cy="818.1" r="5.8" fill="#5b9bd5" stroke="#2b609e" stroke-width="1.7"/><circle cx="1499.88" cy="783.2" r="5.8" fill="#5b9bd5" stroke="#2b609e" stroke-width="1.7"/><circle cx="1510.28" cy="838" r="5.8" fill="#5b9bd5" stroke="#2b609e" stroke-width="1.7"/><circle cx="1520.69" cy="858.3" r="5.8" fill="#5b9bd5" stroke="#2b609e" stroke-width="1.7"/><circle cx="1531.09" cy="813.7" r="5.8" fill="#5b9bd5" stroke="#2b609e" stroke-width="1.7"/><line x1="948.5" y1="795.6" x2="1531.09" y2="795.6" stroke="#a5a5a5" stroke-width="8.3" stroke-linecap="round" stroke-dasharray="24.4 33.0"/><line x1="948.5" y1="843.9" x2="1531.09" y2="843.9" stroke="#a5a5a5" stroke-width="8.3" stroke-linecap="round" stroke-dasharray="24.4 33.0"/><text transform="translate(1128.14,663.2) scale(0.993,1)" font-size="40.0" fill="#595959" stroke="#595959">Brahmaputra</text><text transform="translate(947.67,652.2) scale(1.012,1)" font-size="36.0" fill="#000" stroke="#000">d)</text></g><g id="pe"><line x1="122.7" y1="1180.3" x2="744.8" y2="1180.3" stroke="#d9d9d9" stroke-width="2.0"/><line x1="122.7" y1="1283.9" x2="744.8" y2="1283.9" stroke="#d9d9d9" stroke-width="2.0"/><line x1="122.7" y1="1387.5" x2="744.8" y2="1387.5" stroke="#d9d9d9" stroke-width="2.0"/><line x1="122.7" y1="1491.1" x2="744.8" y2="1491.1" stroke="#d9d9d9" stroke-width="2.0"/><text transform="translate(86.4,1191.9) scale(0.935,1)" text-anchor="end" font-size="36.8" fill="#595959" stroke="#595959">180%</text><text transform="translate(86.4,1295.5) scale(0.935,1)" text-anchor="end" font-size="36.8" fill="#595959" stroke="#595959">140%</text><text transform="translate(86.4,1399.1) scale(0.935,1)" text-anchor="end" font-size="36.8" fill="#595959" stroke="#595959">100%</text><text transform="translate(86.4,1502.7) scale(0.935,1)" text-anchor="end" font-size="36.8" fill="#595959" stroke="#595959">60%</text><text transform="translate(86.4,1606.3) scale(0.935,1)" text-anchor="end" font-size="36.8" fill="#595959" stroke="#595959">20%</text><text transform="translate(109.4,1620.35) rotate(90) scale(0.979,1)" font-size="36.8" fill="#595959" stroke="#595959">1950</text><text transform="translate(213.08,1620.35) rotate(90) scale(0.979,1)" font-size="36.8" fill="#595959" stroke="#595959">1960</text><text transform="translate(316.77,1620.35) rotate(90) scale(0.979,1)" font-size="36.8" fill="#595959" stroke="#595959">1970</text><text transform="translate(420.45,1620.35) rotate(90) scale(0.979,1)" font-size="36.8" fill="#595959" stroke="#595959">1980</text><text transform="translate(524.13,1620.35) rotate(90) scale(0.979,1)" font-size="36.8" fill="#595959" stroke="#595959">1990</text><text transform="translate(627.82,1620.35) rotate(90) scale(0.979,1)" font-size="36.8" fill="#595959" stroke="#595959">2000</text><text transform="translate(731.5,1620.35) rotate(90) scale(0.979,1)" font-size="36.8" fill="#595959" stroke="#595959">2010</text><line x1="122.7" y1="1180.3" x2="122.7" y2="1606.9" stroke="#000" stroke-width="3"/><line x1="121.2" y1="1594.7" x2="746.3" y2="1594.7" stroke="#000" stroke-width="3"/><line x1="226.38" y1="1594.7" x2="226.38" y2="1606.9" stroke="#000" stroke-width="3"/><line x1="330.07" y1="1594.7" x2="330.07" y2="1606.9" stroke="#000" stroke-width="3"/><line x1="433.75" y1="1594.7" x2="433.75" y2="1606.9" stroke="#000" stroke-width="3"/><line x1="537.43" y1="1594.7" x2="537.43" y2="1606.9" stroke="#000" stroke-width="3"/><line x1="641.12" y1="1594.7" x2="641.12" y2="1606.9" stroke="#000" stroke-width="3"/><line x1="744.8" y1="1594.7" x2="744.8" y2="1606.9" stroke="#000" stroke-width="3"/><path d="M133.07,1345.9 L143.44,1310.9 L153.81,1345.9 L164.17,1373.1 L174.54,1430.6 L184.91,1432.3 L195.28,1386.2 L205.65,1368 L216.01,1390.4 L226.38,1435.3 L236.75,1459.2 L247.12,1412.9 L257.49,1440.8 L267.86,1403.3 L278.22,1436.6 L288.59,1386.8 L298.96,1447.1 L309.33,1446.8 L319.7,1400.9 L330.07,1442.1 L340.44,1388.1 L350.8,1363 L361.17,1428.7 L371.54,1351.9 L381.91,1455.4 L392.28,1403.1 L402.64,1392.2 L413.01,1414.8 L423.38,1412.2 L433.75,1394.2 L444.12,1283.7 L454.49,1371 L464.85,1423.7 L475.22,1454.4 L485.59,1454.1 L495.96,1423.4 L506.33,1307.8 L516.7,1338.8 L527.06,1395.5 L537.43,1399.3 L547.8,1369.3 L558.17,1340.5 L568.54,1347.7 L578.91,1421.4 L589.27,1368.4 L599.64,1293.5 L610.01,1421.4 L620.38,1351.3 L630.75,1392.2 L641.12,1340.1 L651.49,1346.8 L661.85,1310 L672.22,1308.1 L682.59,1398.9 L692.96,1305.5 L703.33,1402.1 L713.69,1409.9" fill="none" stroke="#2c67a8" stroke-width="1.9" stroke-linejoin="round"/><circle cx="133.07" cy="1345.9" r="5.8" fill="#5b9bd5" stroke="#2b609e" stroke-width="1.7"/><circle cx="143.44" cy="1310.9" r="5.8" fill="#5b9bd5" stroke="#2b609e" stroke-width="1.7"/><circle cx="153.81" cy="1345.9" r="5.8" fill="#5b9bd5" stroke="#2b609e" stroke-width="1.7"/><circle cx="164.17" cy="1373.1" r="5.8" fill="#5b9bd5" stroke="#2b609e" stroke-width="1.7"/><circle cx="174.54" cy="1430.6" r="5.8" fill="#5b9bd5" stroke="#2b609e" stroke-width="1.7"/><circle cx="184.91" cy="1432.3" r="5.8" fill="#5b9bd5" stroke="#2b609e" stroke-width="1.7"/><circle cx="195.28" cy="1386.2" r="5.8" fill="#5b9bd5" stroke="#2b609e" stroke-width="1.7"/><circle cx="205.65" cy="1368" r="5.8" fill="#5b9bd5" stroke="#2b609e" stroke-width="1.7"/><circle cx="216.01" cy="1390.4" r="5.8" fill="#5b9bd5" stroke="#2b609e" stroke-width="1.7"/><circle cx="226.38" cy="1435.3" r="5.8" fill="#5b9bd5" stroke="#2b609e" stroke-width="1.7"/><circle cx="236.75" cy="1459.2" r="5.8" fill="#5b9bd5" stroke="#2b609e" stroke-width="1.7"/><circle cx="247.12" cy="1412.9" r="5.8" fill="#5b9bd5" stroke="#2b609e" stroke-width="1.7"/><circle cx="257.49" cy="1440.8" r="5.8" fill="#5b9bd5" stroke="#2b609e" stroke-width="1.7"/><circle cx="267.86" cy="1403.3" r="5.8" fill="#5b9bd5" stroke="#2b609e" stroke-width="1.7"/><circle cx="278.22" cy="1436.6" r="5.8" fill="#5b9bd5" stroke="#2b609e" stroke-width="1.7"/><circle cx="288.59" cy="1386.8" r="5.8" fill="#5b9bd5" stroke="#2b609e" stroke-width="1.7"/><circle cx="298.96" cy="1447.1" r="5.8" fill="#5b9bd5" stroke="#2b609e" stroke-width="1.7"/><circle cx="309.33" cy="1446.8" r="5.8" fill="#5b9bd5" stroke="#2b609e" stroke-width="1.7"/><circle cx="319.7" cy="1400.9" r="5.8" fill="#5b9bd5" stroke="#2b609e" stroke-width="1.7"/><circle cx="330.07" cy="1442.1" r="5.8" fill="#5b9bd5" stroke="#2b609e" stroke-width="1.7"/><circle cx="340.44" cy="1388.1" r="5.8" fill="#5b9bd5" stroke="#2b609e" stroke-width="1.7"/><circle cx="350.8" cy="1363" r="5.8" fill="#5b9bd5" stroke="#2b609e" stroke-width="1.7"/><circle cx="361.17" cy="1428.7" r="5.8" fill="#5b9bd5" stroke="#2b609e" stroke-width="1.7"/><circle cx="371.54" cy="1351.9" r="5.8" fill="#5b9bd5" stroke="#2b609e" stroke-width="1.7"/><circle cx="381.91" cy="1455.4" r="5.8" fill="#5b9bd5" stroke="#2b609e" stroke-width="1.7"/><circle cx="392.28" cy="1403.1" r="5.8" fill="#5b9bd5" stroke="#2b609e" stroke-width="1.7"/><circle cx="402.64" cy="1392.2" r="5.8" fill="#5b9bd5" stroke="#2b609e" stroke-width="1.7"/><circle cx="413.01" cy="1414.8" r="5.8" fill="#5b9bd5" stroke="#2b609e" stroke-width="1.7"/><circle cx="423.38" cy="1412.2" r="5.8" fill="#5b9bd5" stroke="#2b609e" stroke-width="1.7"/><circle cx="433.75" cy="1394.2" r="5.8" fill="#5b9bd5" stroke="#2b609e" stroke-width="1.7"/><circle cx="444.12" cy="1283.7" r="5.8" fill="#5b9bd5" stroke="#2b609e" stroke-width="1.7"/><circle cx="454.49" cy="1371" r="5.8" fill="#5b9bd5" stroke="#2b609e" stroke-width="1.7"/><circle cx="464.85" cy="1423.7" r="5.8" fill="#5b9bd5" stroke="#2b609e" stroke-width="1.7"/><circle cx="475.22" cy="1454.4" r="5.8" fill="#5b9bd5" stroke="#2b609e" stroke-width="1.7"/><circle cx="485.59" cy="1454.1" r="5.8" fill="#5b9bd5" stroke="#2b609e" stroke-width="1.7"/><circle cx="495.96" cy="1423.4" r="5.8" fill="#5b9bd5" stroke="#2b609e" stroke-width="1.7"/><circle cx="506.33" cy="1307.8" r="5.8" fill="#5b9bd5" stroke="#2b609e" stroke-width="1.7"/><circle cx="516.7" cy="1338.8" r="5.8" fill="#5b9bd5" stroke="#2b609e" stroke-width="1.7"/><circle cx="527.06" cy="1395.5" r="5.8" fill="#5b9bd5" stroke="#2b609e" stroke-width="1.7"/><circle cx="537.43" cy="1399.3" r="5.8" fill="#5b9bd5" stroke="#2b609e" stroke-width="1.7"/><circle cx="547.8" cy="1369.3" r="5.8" fill="#5b9bd5" stroke="#2b609e" stroke-width="1.7"/><circle cx="558.17" cy="1340.5" r="5.8" fill="#5b9bd5" stroke="#2b609e" stroke-width="1.7"/><circle cx="568.54" cy="1347.7" r="5.8" fill="#5b9bd5" stroke="#2b609e" stroke-width="1.7"/><circle cx="578.91" cy="1421.4" r="5.8" fill="#5b9bd5" stroke="#2b609e" stroke-width="1.7"/><circle cx="589.27" cy="1368.4" r="5.8" fill="#5b9bd5" stroke="#2b609e" stroke-width="1.7"/><circle cx="599.64" cy="1293.5" r="5.8" fill="#5b9bd5" stroke="#2b609e" stroke-width="1.7"/><circle cx="610.01" cy="1421.4" r="5.8" fill="#5b9bd5" stroke="#2b609e" stroke-width="1.7"/><circle cx="620.38" cy="1351.3" r="5.8" fill="#5b9bd5" stroke="#2b609e" stroke-width="1.7"/><circle cx="630.75" cy="1392.2" r="5.8" fill="#5b9bd5" stroke="#2b609e" stroke-width="1.7"/><circle cx="641.12" cy="1340.1" r="5.8" fill="#5b9bd5" stroke="#2b609e" stroke-width="1.7"/><circle cx="651.49" cy="1346.8" r="5.8" fill="#5b9bd5" stroke="#2b609e" stroke-width="1.7"/><circle cx="661.85" cy="1310" r="5.8" fill="#5b9bd5" stroke="#2b609e" stroke-width="1.7"/><circle cx="672.22" cy="1308.1" r="5.8" fill="#5b9bd5" stroke="#2b609e" stroke-width="1.7"/><circle cx="682.59" cy="1398.9" r="5.8" fill="#5b9bd5" stroke="#2b609e" stroke-width="1.7"/><circle cx="692.96" cy="1305.5" r="5.8" fill="#5b9bd5" stroke="#2b609e" stroke-width="1.7"/><circle cx="703.33" cy="1402.1" r="5.8" fill="#5b9bd5" stroke="#2b609e" stroke-width="1.7"/><circle cx="713.69" cy="1409.9" r="5.8" fill="#5b9bd5" stroke="#2b609e" stroke-width="1.7"/><line x1="133.07" y1="1341.4" x2="713.69" y2="1341.4" stroke="#a5a5a5" stroke-width="8.3" stroke-linecap="round" stroke-dasharray="24.4 33.0"/><line x1="133.07" y1="1433.8" x2="713.69" y2="1433.8" stroke="#a5a5a5" stroke-width="8.3" stroke-linecap="round" stroke-dasharray="24.4 33.0"/><text transform="translate(366.05,1224.2) scale(0.962,1)" font-size="40.0" fill="#595959" stroke="#595959">Tarim</text><text transform="translate(133.68,1218.5) scale(0.991,1)" font-size="36.0" fill="#000" stroke="#000">e)</text></g><g id="pf"><line x1="937.5" y1="1186.3" x2="1561.9" y2="1186.3" stroke="#d9d9d9" stroke-width="2.0"/><line x1="937.5" y1="1288.7" x2="1561.9" y2="1288.7" stroke="#d9d9d9" stroke-width="2.0"/><line x1="937.5" y1="1391.1" x2="1561.9" y2="1391.1" stroke="#d9d9d9" stroke-width="2.0"/><line x1="937.5" y1="1493.5" x2="1561.9" y2="1493.5" stroke="#d9d9d9" stroke-width="2.0"/><text transform="translate(901.2,1197.9) scale(0.935,1)" text-anchor="end" font-size="36.8" fill="#595959" stroke="#595959">180%</text><text transform="translate(901.2,1300.3) scale(0.935,1)" text-anchor="end" font-size="36.8" fill="#595959" stroke="#595959">140%</text><text transform="translate(901.2,1402.7) scale(0.935,1)" text-anchor="end" font-size="36.8" fill="#595959" stroke="#595959">100%</text><text transform="translate(901.2,1505.1) scale(0.935,1)" text-anchor="end" font-size="36.8" fill="#595959" stroke="#595959">60%</text><text transform="translate(901.2,1607.5) scale(0.935,1)" text-anchor="end" font-size="36.8" fill="#595959" stroke="#595959">20%</text><text transform="translate(924.2,1621.55) rotate(90) scale(0.979,1)" font-size="36.8" fill="#595959" stroke="#595959">1950</text><text transform="translate(1028.27,1621.55) rotate(90) scale(0.979,1)" font-size="36.8" fill="#595959" stroke="#595959">1960</text><text transform="translate(1132.33,1621.55) rotate(90) scale(0.979,1)" font-size="36.8" fill="#595959" stroke="#595959">1970</text><text transform="translate(1236.4,1621.55) rotate(90) scale(0.979,1)" font-size="36.8" fill="#595959" stroke="#595959">1980</text><text transform="translate(1340.47,1621.55) rotate(90) scale(0.979,1)" font-size="36.8" fill="#595959" stroke="#595959">1990</text><text transform="translate(1444.53,1621.55) rotate(90) scale(0.979,1)" font-size="36.8" fill="#595959" stroke="#595959">2000</text><text transform="translate(1548.6,1621.55) rotate(90) scale(0.979,1)" font-size="36.8" fill="#595959" stroke="#595959">2010</text><line x1="937.5" y1="1186.3" x2="937.5" y2="1608.1" stroke="#000" stroke-width="3"/><line x1="936" y1="1595.9" x2="1563.4" y2="1595.9" stroke="#000" stroke-width="3"/><line x1="1041.57" y1="1595.9" x2="1041.57" y2="1608.1" stroke="#000" stroke-width="3"/><line x1="1145.63" y1="1595.9" x2="1145.63" y2="1608.1" stroke="#000" stroke-width="3"/><line x1="1249.7" y1="1595.9" x2="1249.7" y2="1608.1" stroke="#000" stroke-width="3"/><line x1="1353.77" y1="1595.9" x2="1353.77" y2="1608.1" stroke="#000" stroke-width="3"/><line x1="1457.83" y1="1595.9" x2="1457.83" y2="1608.1" stroke="#000" stroke-width="3"/><line x1="1561.9" y1="1595.9" x2="1561.9" y2="1608.1" stroke="#000" stroke-width="3"/><path d="M947.91,1367.5 L958.31,1383.7 L968.72,1360.4 L979.13,1373.5 L989.53,1402.7 L999.94,1394.2 L1010.35,1416.7 L1020.75,1285.5 L1031.16,1402.3 L1041.57,1400.2 L1051.97,1438.9 L1062.38,1397.6 L1072.79,1373.5 L1083.19,1391.9 L1093.6,1418.3 L1104.01,1336.7 L1114.41,1374.4 L1124.82,1379.5 L1135.23,1286.1 L1145.63,1377.3 L1156.04,1421.1 L1166.45,1355.7 L1176.85,1409 L1187.26,1399.3 L1197.67,1445.5 L1208.07,1391.3 L1218.48,1408.4 L1228.89,1351.5 L1239.29,1380.7 L1249.7,1394.4 L1260.11,1332.2 L1270.51,1422.1 L1280.92,1424.3 L1291.33,1438.6 L1301.73,1394.2 L1312.14,1417.6 L1322.55,1316.8 L1332.95,1372.2 L1343.36,1421.4 L1353.77,1384 L1364.17,1430.6 L1374.58,1392.2 L1384.99,1306.8 L1395.39,1374.8 L1405.8,1483.9 L1416.21,1430.7 L1426.61,1429.5 L1437.02,1346.8 L1447.43,1364.2 L1457.83,1417.7 L1468.24,1415.6 L1478.65,1317.2 L1489.05,1319.8 L1499.46,1406.9 L1509.87,1425 L1520.27,1411.1 L1530.68,1562.9" fill="none" stroke="#2c67a8" stroke-width="1.9" stroke-linejoin="round"/><circle cx="947.91" cy="1367.5" r="5.8" fill="#5b9bd5" stroke="#2b609e" stroke-width="1.7"/><circle cx="958.31" cy="1383.7" r="5.8" fill="#5b9bd5" stroke="#2b609e" stroke-width="1.7"/><circle cx="968.72" cy="1360.4" r="5.8" fill="#5b9bd5" stroke="#2b609e" stroke-width="1.7"/><circle cx="979.13" cy="1373.5" r="5.8" fill="#5b9bd5" stroke="#2b609e" stroke-width="1.7"/><circle cx="989.53" cy="1402.7" r="5.8" fill="#5b9bd5" stroke="#2b609e" stroke-width="1.7"/><circle cx="999.94" cy="1394.2" r="5.8" fill="#5b9bd5" stroke="#2b609e" stroke-width="1.7"/><circle cx="1010.35" cy="1416.7" r="5.8" fill="#5b9bd5" stroke="#2b609e" stroke-width="1.7"/><circle cx="1020.75" cy="1285.5" r="5.8" fill="#5b9bd5" stroke="#2b609e" stroke-width="1.7"/><circle cx="1031.16" cy="1402.3" r="5.8" fill="#5b9bd5" stroke="#2b609e" stroke-width="1.7"/><circle cx="1041.57" cy="1400.2" r="5.8" fill="#5b9bd5" stroke="#2b609e" stroke-width="1.7"/><circle cx="1051.97" cy="1438.9" r="5.8" fill="#5b9bd5" stroke="#2b609e" stroke-width="1.7"/><circle cx="1062.38" cy="1397.6" r="5.8" fill="#5b9bd5" stroke="#2b609e" stroke-width="1.7"/><circle cx="1072.79" cy="1373.5" r="5.8" fill="#5b9bd5" stroke="#2b609e" stroke-width="1.7"/><circle cx="1083.19" cy="1391.9" r="5.8" fill="#5b9bd5" stroke="#2b609e" stroke-width="1.7"/><circle cx="1093.6" cy="1418.3" r="5.8" fill="#5b9bd5" stroke="#2b609e" stroke-width="1.7"/><circle cx="1104.01" cy="1336.7" r="5.8" fill="#5b9bd5" stroke="#2b609e" stroke-width="1.7"/><circle cx="1114.41" cy="1374.4" r="5.8" fill="#5b9bd5" stroke="#2b609e" stroke-width="1.7"/><circle cx="1124.82" cy="1379.5" r="5.8" fill="#5b9bd5" stroke="#2b609e" stroke-width="1.7"/><circle cx="1135.23" cy="1286.1" r="5.8" fill="#5b9bd5" stroke="#2b609e" stroke-width="1.7"/><circle cx="1145.63" cy="1377.3" r="5.8" fill="#5b9bd5" stroke="#2b609e" stroke-width="1.7"/><circle cx="1156.04" cy="1421.1" r="5.8" fill="#5b9bd5" stroke="#2b609e" stroke-width="1.7"/><circle cx="1166.45" cy="1355.7" r="5.8" fill="#5b9bd5" stroke="#2b609e" stroke-width="1.7"/><circle cx="1176.85" cy="1409" r="5.8" fill="#5b9bd5" stroke="#2b609e" stroke-width="1.7"/><circle cx="1187.26" cy="1399.3" r="5.8" fill="#5b9bd5" stroke="#2b609e" stroke-width="1.7"/><circle cx="1197.67" cy="1445.5" r="5.8" fill="#5b9bd5" stroke="#2b609e" stroke-width="1.7"/><circle cx="1208.07" cy="1391.3" r="5.8" fill="#5b9bd5" stroke="#2b609e" stroke-width="1.7"/><circle cx="1218.48" cy="1408.4" r="5.8" fill="#5b9bd5" stroke="#2b609e" stroke-width="1.7"/><circle cx="1228.89" cy="1351.5" r="5.8" fill="#5b9bd5" stroke="#2b609e" stroke-width="1.7"/><circle cx="1239.29" cy="1380.7" r="5.8" fill="#5b9bd5" stroke="#2b609e" stroke-width="1.7"/><circle cx="1249.7" cy="1394.4" r="5.8" fill="#5b9bd5" stroke="#2b609e" stroke-width="1.7"/><circle cx="1260.11" cy="1332.2" r="5.8" fill="#5b9bd5" stroke="#2b609e" stroke-width="1.7"/><circle cx="1270.51" cy="1422.1" r="5.8" fill="#5b9bd5" stroke="#2b609e" stroke-width="1.7"/><circle cx="1280.92" cy="1424.3" r="5.8" fill="#5b9bd5" stroke="#2b609e" stroke-width="1.7"/><circle cx="1291.33" cy="1438.6" r="5.8" fill="#5b9bd5" stroke="#2b609e" stroke-width="1.7"/><circle cx="1301.73" cy="1394.2" r="5.8" fill="#5b9bd5" stroke="#2b609e" stroke-width="1.7"/><circle cx="1312.14" cy="1417.6" r="5.8" fill="#5b9bd5" stroke="#2b609e" stroke-width="1.7"/><circle cx="1322.55" cy="1316.8" r="5.8" fill="#5b9bd5" stroke="#2b609e" stroke-width="1.7"/><circle cx="1332.95" cy="1372.2" r="5.8" fill="#5b9bd5" stroke="#2b609e" stroke-width="1.7"/><circle cx="1343.36" cy="1421.4" r="5.8" fill="#5b9bd5" stroke="#2b609e" stroke-width="1.7"/><circle cx="1353.77" cy="1384" r="5.8" fill="#5b9bd5" stroke="#2b609e" stroke-width="1.7"/><circle cx="1364.17" cy="1430.6" r="5.8" fill="#5b9bd5" stroke="#2b609e" stroke-width="1.7"/><circle cx="1374.58" cy="1392.2" r="5.8" fill="#5b9bd5" stroke="#2b609e" stroke-width="1.7"/><circle cx="1384.99" cy="1306.8" r="5.8" fill="#5b9bd5" stroke="#2b609e" stroke-width="1.7"/><circle cx="1395.39" cy="1374.8" r="5.8" fill="#5b9bd5" stroke="#2b609e" stroke-width="1.7"/><circle cx="1405.8" cy="1483.9" r="5.8" fill="#5b9bd5" stroke="#2b609e" stroke-width="1.7"/><circle cx="1416.21" cy="1430.7" r="5.8" fill="#5b9bd5" stroke="#2b609e" stroke-width="1.7"/><circle cx="1426.61" cy="1429.5" r="5.8" fill="#5b9bd5" stroke="#2b609e" stroke-width="1.7"/><circle cx="1437.02" cy="1346.8" r="5.8" fill="#5b9bd5" stroke="#2b609e" stroke-width="1.7"/><circle cx="1447.43" cy="1364.2" r="5.8" fill="#5b9bd5" stroke="#2b609e" stroke-width="1.7"/><circle cx="1457.83" cy="1417.7" r="5.8" fill="#5b9bd5" stroke="#2b609e" stroke-width="1.7"/><circle cx="1468.24" cy="1415.6" r="5.8" fill="#5b9bd5" stroke="#2b609e" stroke-width="1.7"/><circle cx="1478.65" cy="1317.2" r="5.8" fill="#5b9bd5" stroke="#2b609e" stroke-width="1.7"/><circle cx="1489.05" cy="1319.8" r="5.8" fill="#5b9bd5" stroke="#2b609e" stroke-width="1.7"/><circle cx="1499.46" cy="1406.9" r="5.8" fill="#5b9bd5" stroke="#2b609e" stroke-width="1.7"/><circle cx="1509.87" cy="1425" r="5.8" fill="#5b9bd5" stroke="#2b609e" stroke-width="1.7"/><circle cx="1520.27" cy="1411.1" r="5.8" fill="#5b9bd5" stroke="#2b609e" stroke-width="1.7"/><circle cx="1530.68" cy="1562.9" r="5.8" fill="#5b9bd5" stroke="#2b609e" stroke-width="1.7"/><line x1="947.91" y1="1344.3" x2="1530.68" y2="1344.3" stroke="#a5a5a5" stroke-width="8.3" stroke-linecap="round" stroke-dasharray="24.4 33.0"/><line x1="947.91" y1="1437.6" x2="1530.68" y2="1437.6" stroke="#a5a5a5" stroke-width="8.3" stroke-linecap="round" stroke-dasharray="24.4 33.0"/><text transform="translate(1182.41,1230.6) scale(0.921,1)" font-size="40.0" fill="#595959" stroke="#595959">Issyk-Kul</text><text transform="translate(951.83,1220.3) scale(1.122,1)" font-size="36.0" fill="#000" stroke="#000">f)</text></g><g id="pg"><line x1="121.8" y1="1784.4" x2="746.3" y2="1784.4" stroke="#d9d9d9" stroke-width="2.0"/><line x1="121.8" y1="1886.93" x2="746.3" y2="1886.93" stroke="#d9d9d9" stroke-width="2.0"/><line x1="121.8" y1="1989.45" x2="746.3" y2="1989.45" stroke="#d9d9d9" stroke-width="2.0"/><line x1="121.8" y1="2091.97" x2="746.3" y2="2091.97" stroke="#d9d9d9" stroke-width="2.0"/><text transform="translate(85.5,1796) scale(0.935,1)" text-anchor="end" font-size="36.8" fill="#595959" stroke="#595959">180%</text><text transform="translate(85.5,1898.53) scale(0.935,1)" text-anchor="end" font-size="36.8" fill="#595959" stroke="#595959">140%</text><text transform="translate(85.5,2001.05) scale(0.935,1)" text-anchor="end" font-size="36.8" fill="#595959" stroke="#595959">100%</text><text transform="translate(85.5,2103.57) scale(0.935,1)" text-anchor="end" font-size="36.8" fill="#595959" stroke="#595959">60%</text><text transform="translate(85.5,2206.1) scale(0.935,1)" text-anchor="end" font-size="36.8" fill="#595959" stroke="#595959">20%</text><text transform="translate(108.5,2220.15) rotate(90) scale(0.979,1)" font-size="36.8" fill="#595959" stroke="#595959">1950</text><text transform="translate(212.58,2220.15) rotate(90) scale(0.979,1)" font-size="36.8" fill="#595959" stroke="#595959">1960</text><text transform="translate(316.67,2220.15) rotate(90) scale(0.979,1)" font-size="36.8" fill="#595959" stroke="#595959">1970</text><text transform="translate(420.75,2220.15) rotate(90) scale(0.979,1)" font-size="36.8" fill="#595959" stroke="#595959">1980</text><text transform="translate(524.83,2220.15) rotate(90) scale(0.979,1)" font-size="36.8" fill="#595959" stroke="#595959">1990</text><text transform="translate(628.92,2220.15) rotate(90) scale(0.979,1)" font-size="36.8" fill="#595959" stroke="#595959">2000</text><text transform="translate(733,2220.15) rotate(90) scale(0.979,1)" font-size="36.8" fill="#595959" stroke="#595959">2010</text><line x1="121.8" y1="1784.4" x2="121.8" y2="2206.7" stroke="#000" stroke-width="3"/><line x1="120.3" y1="2194.5" x2="747.8" y2="2194.5" stroke="#000" stroke-width="3"/><line x1="225.88" y1="2194.5" x2="225.88" y2="2206.7" stroke="#000" stroke-width="3"/><line x1="329.97" y1="2194.5" x2="329.97" y2="2206.7" stroke="#000" stroke-width="3"/><line x1="434.05" y1="2194.5" x2="434.05" y2="2206.7" stroke="#000" stroke-width="3"/><line x1="538.13" y1="2194.5" x2="538.13" y2="2206.7" stroke="#000" stroke-width="3"/><line x1="642.22" y1="2194.5" x2="642.22" y2="2206.7" stroke="#000" stroke-width="3"/><line x1="746.3" y1="2194.5" x2="746.3" y2="2206.7" stroke="#000" stroke-width="3"/><path d="M132.21,1992.5 L142.62,1987.5 L153.03,1964.2 L163.43,1957.9 L173.84,2032.5 L184.25,2016.7 L194.66,2028.1 L205.07,1886.5 L215.47,1964 L225.88,1951 L236.29,2035.3 L246.7,2022.4 L257.11,1989.1 L267.52,1999.5 L277.93,2011.6 L288.33,1928.2 L298.74,2014.1 L309.15,1994.2 L319.56,1923.1 L329.97,1982.4 L340.38,1988.1 L350.78,1920.8 L361.19,1971.6 L371.6,2061.5 L382.01,2050.1 L392.42,1971.6 L402.82,2033.2 L413.23,1977.7 L423.64,1946.8 L434.05,1988.1 L444.46,1946.8 L454.87,2038.3 L465.28,2003.1 L475.68,2044.6 L486.09,1988.7 L496.5,2011 L506.91,1929.4 L517.32,1942.4 L527.73,2003.3 L538.13,1963 L548.54,2056.7 L558.95,1983.7 L569.36,1894.8 L579.77,1974.8 L590.17,2064.9 L600.58,2006.9 L610.99,2056.5 L621.4,1951.8 L631.81,1972.4 L642.22,1993.5 L652.62,2011.1 L663.03,1905.3 L673.44,1937.3 L683.85,1971.7 L694.26,2023 L704.67,2001.4 L715.07,2136.9" fill="none" stroke="#2c67a8" stroke-width="1.9" stroke-linejoin="round"/><circle cx="132.21" cy="1992.5" r="5.8" fill="#5b9bd5" stroke="#2b609e" stroke-width="1.7"/><circle cx="142.62" cy="1987.5" r="5.8" fill="#5b9bd5" stroke="#2b609e" stroke-width="1.7"/><circle cx="153.03" cy="1964.2" r="5.8" fill="#5b9bd5" stroke="#2b609e" stroke-width="1.7"/><circle cx="163.43" cy="1957.9" r="5.8" fill="#5b9bd5" stroke="#2b609e" stroke-width="1.7"/><circle cx="173.84" cy="2032.5" r="5.8" fill="#5b9bd5" stroke="#2b609e" stroke-width="1.7"/><circle cx="184.25" cy="2016.7" r="5.8" fill="#5b9bd5" stroke="#2b609e" stroke-width="1.7"/><circle cx="194.66" cy="2028.1" r="5.8" fill="#5b9bd5" stroke="#2b609e" stroke-width="1.7"/><circle cx="205.07" cy="1886.5" r="5.8" fill="#5b9bd5" stroke="#2b609e" stroke-width="1.7"/><circle cx="215.47" cy="1964" r="5.8" fill="#5b9bd5" stroke="#2b609e" stroke-width="1.7"/><circle cx="225.88" cy="1951" r="5.8" fill="#5b9bd5" stroke="#2b609e" stroke-width="1.7"/><circle cx="236.29" cy="2035.3" r="5.8" fill="#5b9bd5" stroke="#2b609e" stroke-width="1.7"/><circle cx="246.7" cy="2022.4" r="5.8" fill="#5b9bd5" stroke="#2b609e" stroke-width="1.7"/><circle cx="257.11" cy="1989.1" r="5.8" fill="#5b9bd5" stroke="#2b609e" stroke-width="1.7"/><circle cx="267.52" cy="1999.5" r="5.8" fill="#5b9bd5" stroke="#2b609e" stroke-width="1.7"/><circle cx="277.93" cy="2011.6" r="5.8" fill="#5b9bd5" stroke="#2b609e" stroke-width="1.7"/><circle cx="288.33" cy="1928.2" r="5.8" fill="#5b9bd5" stroke="#2b609e" stroke-width="1.7"/><circle cx="298.74" cy="2014.1" r="5.8" fill="#5b9bd5" stroke="#2b609e" stroke-width="1.7"/><circle cx="309.15" cy="1994.2" r="5.8" fill="#5b9bd5" stroke="#2b609e" stroke-width="1.7"/><circle cx="319.56" cy="1923.1" r="5.8" fill="#5b9bd5" stroke="#2b609e" stroke-width="1.7"/><circle cx="329.97" cy="1982.4" r="5.8" fill="#5b9bd5" stroke="#2b609e" stroke-width="1.7"/><circle cx="340.38" cy="1988.1" r="5.8" fill="#5b9bd5" stroke="#2b609e" stroke-width="1.7"/><circle cx="350.78" cy="1920.8" r="5.8" fill="#5b9bd5" stroke="#2b609e" stroke-width="1.7"/><circle cx="361.19" cy="1971.6" r="5.8" fill="#5b9bd5" stroke="#2b609e" stroke-width="1.7"/><circle cx="371.6" cy="2061.5" r="5.8" fill="#5b9bd5" stroke="#2b609e" stroke-width="1.7"/><circle cx="382.01" cy="2050.1" r="5.8" fill="#5b9bd5" stroke="#2b609e" stroke-width="1.7"/><circle cx="392.42" cy="1971.6" r="5.8" fill="#5b9bd5" stroke="#2b609e" stroke-width="1.7"/><circle cx="402.82" cy="2033.2" r="5.8" fill="#5b9bd5" stroke="#2b609e" stroke-width="1.7"/><circle cx="413.23" cy="1977.7" r="5.8" fill="#5b9bd5" stroke="#2b609e" stroke-width="1.7"/><circle cx="423.64" cy="1946.8" r="5.8" fill="#5b9bd5" stroke="#2b609e" stroke-width="1.7"/><circle cx="434.05" cy="1988.1" r="5.8" fill="#5b9bd5" stroke="#2b609e" stroke-width="1.7"/><circle cx="444.46" cy="1946.8" r="5.8" fill="#5b9bd5" stroke="#2b609e" stroke-width="1.7"/><circle cx="454.87" cy="2038.3" r="5.8" fill="#5b9bd5" stroke="#2b609e" stroke-width="1.7"/><circle cx="465.28" cy="2003.1" r="5.8" fill="#5b9bd5" stroke="#2b609e" stroke-width="1.7"/><circle cx="475.68" cy="2044.6" r="5.8" fill="#5b9bd5" stroke="#2b609e" stroke-width="1.7"/><circle cx="486.09" cy="1988.7" r="5.8" fill="#5b9bd5" stroke="#2b609e" stroke-width="1.7"/><circle cx="496.5" cy="2011" r="5.8" fill="#5b9bd5" stroke="#2b609e" stroke-width="1.7"/><circle cx="506.91" cy="1929.4" r="5.8" fill="#5b9bd5" stroke="#2b609e" stroke-width="1.7"/><circle cx="517.32" cy="1942.4" r="5.8" fill="#5b9bd5" stroke="#2b609e" stroke-width="1.7"/><circle cx="527.73" cy="2003.3" r="5.8" fill="#5b9bd5" stroke="#2b609e" stroke-width="1.7"/><circle cx="538.13" cy="1963" r="5.8" fill="#5b9bd5" stroke="#2b609e" stroke-width="1.7"/><circle cx="548.54" cy="2056.7" r="5.8" fill="#5b9bd5" stroke="#2b609e" stroke-width="1.7"/><circle cx="558.95" cy="1983.7" r="5.8" fill="#5b9bd5" stroke="#2b609e" stroke-width="1.7"/><circle cx="569.36" cy="1894.8" r="5.8" fill="#5b9bd5" stroke="#2b609e" stroke-width="1.7"/><circle cx="579.77" cy="1974.8" r="5.8" fill="#5b9bd5" stroke="#2b609e" stroke-width="1.7"/><circle cx="590.17" cy="2064.9" r="5.8" fill="#5b9bd5" stroke="#2b609e" stroke-width="1.7"/><circle cx="600.58" cy="2006.9" r="5.8" fill="#5b9bd5" stroke="#2b609e" stroke-width="1.7"/><circle cx="610.99" cy="2056.5" r="5.8" fill="#5b9bd5" stroke="#2b609e" stroke-width="1.7"/><circle cx="621.4" cy="1951.8" r="5.8" fill="#5b9bd5" stroke="#2b609e" stroke-width="1.7"/><circle cx="631.81" cy="1972.4" r="5.8" fill="#5b9bd5" stroke="#2b609e" stroke-width="1.7"/><circle cx="642.22" cy="1993.5" r="5.8" fill="#5b9bd5" stroke="#2b609e" stroke-width="1.7"/><circle cx="652.62" cy="2011.1" r="5.8" fill="#5b9bd5" stroke="#2b609e" stroke-width="1.7"/><circle cx="663.03" cy="1905.3" r="5.8" fill="#5b9bd5" stroke="#2b609e" stroke-width="1.7"/><circle cx="673.44" cy="1937.3" r="5.8" fill="#5b9bd5" stroke="#2b609e" stroke-width="1.7"/><circle cx="683.85" cy="1971.7" r="5.8" fill="#5b9bd5" stroke="#2b609e" stroke-width="1.7"/><circle cx="694.26" cy="2023" r="5.8" fill="#5b9bd5" stroke="#2b609e" stroke-width="1.7"/><circle cx="704.67" cy="2001.4" r="5.8" fill="#5b9bd5" stroke="#2b609e" stroke-width="1.7"/><circle cx="715.07" cy="2136.9" r="5.8" fill="#5b9bd5" stroke="#2b609e" stroke-width="1.7"/><line x1="132.21" y1="1942.6" x2="715.07" y2="1942.6" stroke="#a5a5a5" stroke-width="8.3" stroke-linecap="round" stroke-dasharray="24.4 33.0"/><line x1="132.21" y1="2036.6" x2="715.07" y2="2036.6" stroke="#a5a5a5" stroke-width="8.3" stroke-linecap="round" stroke-dasharray="24.4 33.0"/><text transform="translate(355.58,1828.8) scale(0.950,1)" font-size="40.0" fill="#595959" stroke="#595959">Balkhash</text><text transform="translate(135.67,1822.5) scale(0.945,1)" font-size="36.0" fill="#000" stroke="#000">g)</text></g>
</svg>
</body></html>
